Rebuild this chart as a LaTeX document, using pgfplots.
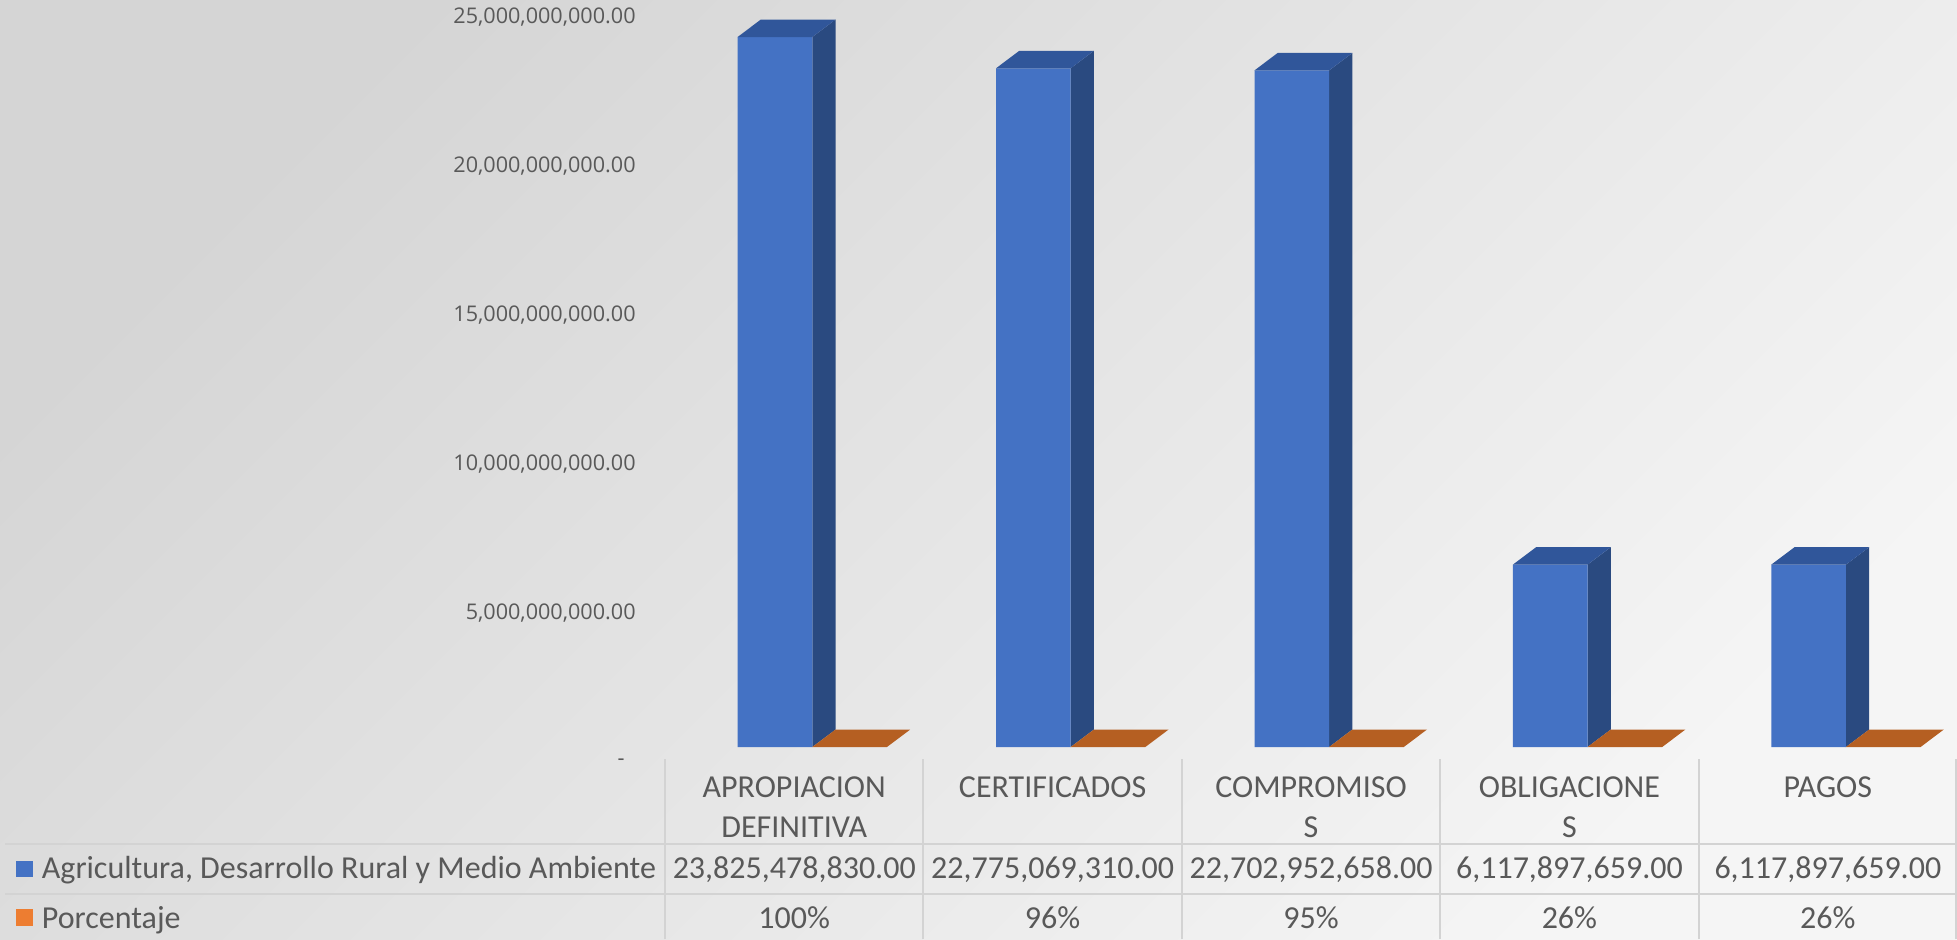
\documentclass[border=0pt]{standalone}
\usepackage{pgfplots}
\pgfplotsset{compat=1.18}
\usepackage{fontspec}
\setmainfont{Carlito}
\newfontfamily\osans{Open Sans}
\definecolor{txt}{HTML}{595959}
\definecolor{bfront}{HTML}{4472C4}
\definecolor{bside}{HTML}{2A4A80}
\definecolor{btop}{HTML}{30569A}
\definecolor{otop}{HTML}{B55F22}
\definecolor{oleg}{HTML}{ED7D31}
\definecolor{gridc}{HTML}{D3D3D3}
\definecolor{bgA}{HTML}{D5D5D5}
\definecolor{bgB}{HTML}{F5F5F5}
\begin{document}
\begin{tikzpicture}[x=1pt,y=1pt]
\useasboundingbox (0,0) rectangle (978.5,469.5);
\shade[top color=bgA, bottom color=bgB, shading angle=45] (0,0) rectangle (978.5,469.5);
\begin{axis}[
  at={(332.5pt,96pt)}, anchor=south west,
  scale only axis, width=646pt, height=372.5pt,
  xmin=-0.5, xmax=4.5, ymin=0, ymax=25e9,
  axis line style={draw=none},
  xtick=\empty,
  ytick={0,5e9,10e9,15e9,20e9,25e9},
  yticklabels={{-\kern5.5pt},{5,000,000,000.00},{10,000,000,000.00},{15,000,000,000.00},{20,000,000,000.00},{25,000,000,000.00}},
  scaled y ticks=false,
  major tick length=0pt,
  yticklabel style={anchor=east, inner sep=0pt, xshift=-14.5pt, yshift=-7.5pt, font=\osans\fontsize{10.8}{13}\selectfont, text=txt},
  clip=false,
]
% side faces
\addplot[fill=bside, draw=none, mark=none] coordinates {(0.070,0) (0.160,587000000) (0.160,24412478830) (0.070,23825478830)} --cycle;
\addplot[fill=bside, draw=none, mark=none] coordinates {(1.070,0) (1.160,587000000) (1.160,23362069310) (1.070,22775069310)} --cycle;
\addplot[fill=bside, draw=none, mark=none] coordinates {(2.070,0) (2.160,587000000) (2.160,23289952658) (2.070,22702952658)} --cycle;
\addplot[fill=bside, draw=none, mark=none] coordinates {(3.070,0) (3.160,587000000) (3.160,6704897659) (3.070,6117897659)} --cycle;
\addplot[fill=bside, draw=none, mark=none] coordinates {(4.070,0) (4.160,587000000) (4.160,6704897659) (4.070,6117897659)} --cycle;
% front faces (series: Agricultura, Desarrollo Rural y Medio Ambiente)
\addplot[ybar, bar width=37.3pt, bar shift=-9.6pt, fill=bfront, draw=none, mark=none] coordinates {(0,23825478830) (1,22775069310) (2,22702952658) (3,6117897659) (4,6117897659)};
% top faces
\addplot[fill=btop, draw=none, mark=none] coordinates {(-0.219,23825478830) (0.070,23825478830) (0.160,24412478830) (-0.129,24412478830)} --cycle;
\addplot[fill=btop, draw=none, mark=none] coordinates {(0.781,22775069310) (1.070,22775069310) (1.160,23362069310) (0.871,23362069310)} --cycle;
\addplot[fill=btop, draw=none, mark=none] coordinates {(1.781,22702952658) (2.070,22702952658) (2.160,23289952658) (1.871,23289952658)} --cycle;
\addplot[fill=btop, draw=none, mark=none] coordinates {(2.781,6117897659) (3.070,6117897659) (3.160,6704897659) (2.871,6704897659)} --cycle;
\addplot[fill=btop, draw=none, mark=none] coordinates {(3.781,6117897659) (4.070,6117897659) (4.160,6704897659) (3.871,6704897659)} --cycle;
% Porcentaje (1.00, 0.96, 0.95, 0.26, 0.26): flat bars on this scale
\addplot[fill=otop, draw=none, mark=none] coordinates {(0.070,1.00) (0.359,1.00) (0.449,587000001.00) (0.160,587000001.00)} --cycle;
\addplot[fill=otop, draw=none, mark=none] coordinates {(1.070,0.96) (1.359,0.96) (1.449,587000000.96) (1.160,587000000.96)} --cycle;
\addplot[fill=otop, draw=none, mark=none] coordinates {(2.070,0.95) (2.359,0.95) (2.449,587000000.95) (2.160,587000000.95)} --cycle;
\addplot[fill=otop, draw=none, mark=none] coordinates {(3.070,0.26) (3.359,0.26) (3.449,587000000.26) (3.160,587000000.26)} --cycle;
\addplot[fill=otop, draw=none, mark=none] coordinates {(4.070,0.26) (4.359,0.26) (4.449,587000000.26) (4.160,587000000.26)} --cycle;
\end{axis}
% data table
\foreach \x in {332.5,461.7,590.9,720.1,849.3,977.8}
  \draw[gridc, line width=1pt] (\x,0) -- (\x,90);
\draw[gridc, line width=1pt] (2.5,47.5) -- (978.5,47.5);
\draw[gridc, line width=1pt] (2.5,22.5) -- (978.5,22.5);
\begin{scope}[every node/.style={anchor=base, inner sep=0pt, text=txt, font=\fontsize{16}{19}\selectfont}]
\node at (397.1,70.6) {APROPIACION};
\node at (397.1,50.6) {DEFINITIVA};
\node at (526.3,70.6) {CERTIFICADOS};
\node at (655.5,70.6) {COMPROMISO};
\node at (655.5,50.6) {S};
\node at (784.7,70.6) {OBLIGACIONE};
\node at (784.7,50.6) {S};
\node at (913.9,70.6) {PAGOS};
\node at (397.1,30.4) {23,825,478,830.00};
\node at (526.3,30.4) {22,775,069,310.00};
\node at (655.5,30.4) {22,702,952,658.00};
\node at (784.7,30.4) {6,117,897,659.00};
\node at (913.9,30.4) {6,117,897,659.00};
\node at (397.1,5.4) {100\%};
\node at (526.3,5.4) {96\%};
\node at (655.5,5.4) {95\%};
\node at (784.7,5.4) {26\%};
\node at (913.9,5.4) {26\%};
\node[anchor=base west] at (20.75,30.4) {Agricultura, Desarrollo Rural y Medio Ambiente};
\node[anchor=base west] at (20.75,5.4) {Porcentaje};
\end{scope}
\fill[bfront] (7.8,30.9) rectangle (16.3,39.2);
\fill[oleg] (7.8,6.5) rectangle (16.3,15.2);
\end{tikzpicture}
\end{document}
